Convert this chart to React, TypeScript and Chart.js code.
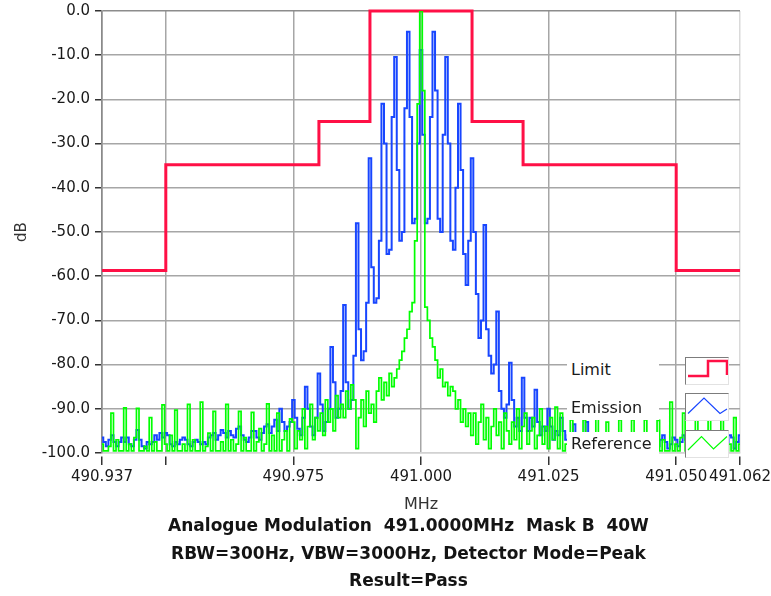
import React, { useEffect, useRef } from "react";
import { Chart, registerables } from "chart.js";

Chart.register(...registerables);

// ---------- data ----------
const FREQ_START = 490.9375; // MHz, first sample
const FREQ_STEP = 0.0005; // MHz between samples
const X_MIN = 490.9375;
const X_MAX = 491.0625;
const X_TICKS = [490.9375, 490.95, 490.975, 491.0, 491.025, 491.05, 491.0625];
const X_TICK_LABELS = ["490.937", "", "490.975", "491.000", "491.025", "491.050", "491.062"];
const Y_TICKS = [0, -10, -20, -30, -40, -50, -60, -70, -80, -90, -100];

const SERIES_NAMES = ["Limit", "Emission", "Reference"];

// Limit mask: band edges (MHz) and level (dB) held from each edge to the next
const LIMIT_FREQ = [490.9375, 490.95, 490.98, 490.99, 491.01, 491.02, 491.05, 491.0625];
const LIMIT_DB = [-58.7, -34.8, -25, 0, -25, -34.8, -58.7, -58.7];

// Emission trace (dB), one value per sample
const EMISSION = [
  -96.5, -97.5, -98.5, -97, -96, -97.5, -98.5, -97.5, -96.5, -97.5,
  -96.5, -98, -98.5, -97, -94.8, -97, -98.5, -99, -97.5, -98,
  -97.5, -96, -97, -95.5, -96.5, -95.5, -96, -98, -98.5, -97.5,
  -98, -97, -96.5, -97, -98, -98.5, -97.5, -97, -97.5, -98,
  -97.5, -98, -96.5, -96, -95.5, -97, -96, -94.8, -95.5, -96.5,
  -95, -96, -96.5, -94.5, -94, -96, -97, -97.5, -96.5, -95,
  -95, -96.5, -97, -95.5, -94, -93.5, -95.5, -94, -92.5, -95,
  -90, -93, -95, -94, -93, -88, -92, -94.5, -96, -92,
  -85, -90, -94, -96, -92, -82, -89, -95, -93, -90,
  -76, -84, -92, -90, -86, -66.5, -84, -90, -88, -78,
  -48, -72, -79, -77, -66, -33.3, -58, -66, -65, -52,
  -21, -30, -55, -54, -24, -10.4, -36, -52, -50, -22,
  -4.7, -24, -48, -47, -30, -8.8, -28, -48, -47, -24,
  -4.7, -18, -47, -50, -28, -10.4, -30, -52, -54, -40,
  -21, -36, -55, -62, -52, -33.3, -50, -64, -74, -70,
  -48.4, -72, -78, -82, -80, -68, -86, -90, -92, -89,
  -79.6, -88, -94, -92, -95, -83, -92, -95, -92, -94,
  -85.7, -93, -96, -94, -95, -90, -94, -97, -95, -96,
  -92, -95, -97, -96, -98, -93.5, -96, -97.5, -98, -96,
  -93, -96.5, -98, -97, -95.5, -96.5, -98, -97.5, -96, -97,
  -98, -97, -95.5, -96.5, -98, -97, -96.5, -98, -97.5, -96,
  -97, -98.5, -97, -96, -97.5, -98, -96.5, -97, -98.5, -97,
  -96, -97.5, -99, -98, -96.5, -97, -98.5, -97.5, -96, -97,
  -98, -97, -96.5, -97.5, -98, -96, -97, -98.5, -97, -96.5,
  -97.5, -98, -96.5, -97, -98, -97.5, -96, -96.5, -99, -97.5,
  -96,
];

// Reference trace (dB), one value per sample
const REFERENCE = [
  -98, -99.5, -99.5, -98.5, -91, -99.5, -97, -99.5, -99.5, -89.8,
  -99.5, -98, -99.5, -96.5, -89.9, -99.5, -99.5, -98.5, -99.5, -92,
  -99.5, -97.5, -99.5, -99.5, -89.1, -98, -99.5, -96, -99.5, -90.3,
  -99.5, -99.5, -98, -99.5, -89, -99.5, -97, -99.5, -99.5, -88.5,
  -99.5, -98.5, -95.5, -99.5, -90.6, -99.5, -99.5, -97.5, -99.5, -89,
  -99.5, -97, -99.5, -98, -90.6, -99.5, -96.5, -99.5, -99.5, -90.8,
  -99.5, -97.5, -94.5, -99.5, -98, -88.9, -99.5, -96, -99.5, -91,
  -99.5, -97, -95, -99.5, -92.3, -93, -99, -95, -97, -90,
  -99, -94, -89, -97, -92, -95, -91, -96, -88, -93,
  -90, -95, -87, -92, -89, -92, -86, -90, -84.6, -88,
  -99, -92, -88, -94, -86, -91, -89, -93, -86, -83,
  -88, -84, -87, -82, -85, -83, -81, -79, -77, -74,
  -72, -68, -66, -52, -21, 0, -18, -67, -70, -74,
  -76, -79, -83, -81, -85, -84, -87, -85, -86, -90,
  -88, -93, -90, -94, -91, -96, -91, -98, -93, -89,
  -97, -92, -99, -94, -90, -96, -93, -99, -91, -95,
  -98, -93, -97, -90, -99, -94, -91, -98, -95, -92,
  -99, -96, -90, -98, -94, -99, -92, -97, -89.6, -99,
  -91, -99.5, -98, -99.5, -92.5, -99.5, -97, -99.5, -99.5, -92.5,
  -99.5, -98, -99.5, -96.5, -92, -99.5, -99.5, -98, -93, -99.5,
  -97.5, -99.5, -99.5, -92.5, -99.5, -98, -99.5, -96, -92.5, -99.5,
  -99.5, -97.5, -99.5, -92.5, -99.5, -98.5, -99.5, -99.5, -92.6, -99.5,
  -97, -99.5, -99.5, -88.5, -99.5, -98, -99.5, -96.5, -91, -99.5,
  -99.5, -98, -99.5, -90, -99.5, -97.5, -99.5, -99.5, -91, -99.5,
  -98.5, -99.5, -96.5, -90.5, -99.5, -99.5, -98, -99.5, -92, -99.5,
  -98,
];

const TITLE_LINES = [
  "Analogue Modulation  491.0000MHz  Mask B  40W",
  "RBW=300Hz, VBW=3000Hz, Detector Mode=Peak",
  "Result=Pass",
];

const COLORS = { limit: "#ff1046", emission: "#1846ff", reference: "#00ff00" };
const FONT = '"DejaVu Sans", Verdana, sans-serif';

export default function App() {
  const canvasRef = useRef<HTMLCanvasElement | null>(null);

  useEffect(() => {
    const canvas = canvasRef.current;
    if (!canvas) return;
    Chart.defaults.font.family = FONT;
    const freqs = EMISSION.map((_, i) => FREQ_START + i * FREQ_STEP);
    const chart = new Chart(canvas, {
      type: "line",
      data: {
        datasets: [
          {
            label: SERIES_NAMES[2],
            data: REFERENCE.map((v, i) => ({ x: freqs[i], y: v })),
            borderColor: COLORS.reference,
            borderWidth: 1.7,
            pointRadius: 0,
            stepped: "middle",
            order: 0,
          },
          {
            label: SERIES_NAMES[1],
            data: EMISSION.map((v, i) => ({ x: freqs[i], y: v })),
            borderColor: COLORS.emission,
            borderWidth: 2,
            pointRadius: 0,
            stepped: "middle",
            order: 1,
          },
          {
            label: SERIES_NAMES[0],
            data: LIMIT_FREQ.map((f, i) => ({ x: f, y: LIMIT_DB[i] })),
            borderColor: COLORS.limit,
            borderWidth: 3,
            pointRadius: 0,
            stepped: "before",
            clip: false,
            order: 2,
          },
        ],
      },
      options: {
        responsive: false,
        animation: false,
        events: [],
        layout: { padding: { left: 0, top: 11, right: 31, bottom: 82 } },
        plugins: { legend: { display: false }, tooltip: { enabled: false } },
        scales: {
          x: {
            type: "linear",
            min: X_MIN,
            max: X_MAX,
            afterBuildTicks: (s: any) => {
              s.ticks = X_TICKS.map((v) => ({ value: v }));
            },
            afterFit: (s: any) => {
              s.height = 61;
              s.paddingLeft = 0;
              s.paddingRight = 0;
            },
            ticks: {
              autoSkip: false,
              maxRotation: 0,
              minRotation: 0,
              padding: 3,
              font: { size: 15 },
              color: "#1a1a1a",
              callback: (_v: any, i: number) => X_TICK_LABELS[i],
            },
            grid: {
              color: (ctx: any) => {
                const v = ctx.tick ? ctx.tick.value : 0;
                if (Math.abs(v - X_MAX) < 1e-9) return "#dadada";
                if (Math.abs(v - X_MIN) < 1e-9) return "#8a8a8a";
                return "#a6a6a6";
              },
              lineWidth: 1.5,
              tickColor: "#333",
              tickLength: 12,
              tickWidth: 1.5,
              tickBorderDash: [0, 3, 20],
            },
            border: { color: "#d2d2d2", width: 1.5 },
            title: {
              display: true,
              text: "MHz",
              font: { size: 16 },
              color: "#333",
              padding: { top: 0, bottom: 0 },
            },
          },
          y: {
            type: "linear",
            min: -100,
            max: 0,
            afterBuildTicks: (s: any) => {
              s.ticks = Y_TICKS.map((v) => ({ value: v }));
            },
            afterFit: (s: any) => {
              s.width = 102;
              s.paddingTop = 0;
              s.paddingBottom = 0;
            },
            ticks: {
              padding: 2,
              font: { size: 15 },
              color: "#1a1a1a",
              callback: (v: any) => Number(v).toFixed(1),
            },
            grid: {
              color: (ctx: any) => {
                const v = ctx.tick ? ctx.tick.value : 0;
                if (v === 0) return "#8c8c8c";
                if (v === -100) return "#d2d2d2";
                return "#a6a6a6";
              },
              lineWidth: 1.5,
              tickColor: "#333",
              tickLength: 10,
              tickWidth: 1.5,
              tickBorderDash: [0, 3, 20],
            },
            border: { color: "#8a8a8a", width: 1.5 },
            title: {
              display: true,
              text: "dB",
              font: { size: 15 },
              color: "#333",
              padding: { top: 13, bottom: 0 },
            },
          },
        },
      },
    } as any);
    return () => chart.destroy();
  }, []);

  const labelBox = (top: number): React.CSSProperties => ({
    position: "absolute",
    left: 567,
    top,
    width: 92,
    height: 24,
    background: "#fff",
    font: `16px ${FONT}`,
    lineHeight: "24px",
    color: "#1a1a1a",
    paddingLeft: 4,
    boxSizing: "border-box",
    whiteSpace: "nowrap",
  });
  const iconBox = (top: number): React.CSSProperties => ({
    position: "absolute",
    left: 685,
    top,
    width: 44,
    height: 28,
    background: "#fff",
    boxSizing: "border-box",
    borderTop: "1px solid #7c7c7c",
    borderLeft: "1px solid #7c7c7c",
    borderRight: "1px solid #e2e2e2",
    borderBottom: "1px solid #e2e2e2",
  });

  return (
    <div style={{ position: "fixed", left: 0, top: 0, width: 771, height: 596, background: "#fff" }}>
      <canvas ref={canvasRef} width={771} height={596} style={{ display: "block", width: 771, height: 596 }} />
      <div style={labelBox(358)}>{SERIES_NAMES[0]}</div>
      <div style={labelBox(396)}>{SERIES_NAMES[1]}</div>
      <div style={labelBox(432)}>{SERIES_NAMES[2]}</div>
      <div style={iconBox(357)}>
        <svg width={42} height={26} style={{ display: "block" }}>
          <polyline points="2,18 22,18 22,3 41,3 41,17" fill="none" stroke={COLORS.limit} strokeWidth={2.5} />
        </svg>
      </div>
      <div style={iconBox(393)}>
        <svg width={42} height={26} style={{ display: "block" }}>
          <polyline points="2,19.5 18,4 34,19.5 41,15" fill="none" stroke={COLORS.emission} strokeWidth={1.2} />
        </svg>
      </div>
      <div style={iconBox(430)}>
        <svg width={42} height={26} style={{ display: "block" }}>
          <polyline points="2,19 15.5,5.5 27.5,18 41,5.5" fill="none" stroke={COLORS.reference} strokeWidth={1.2} />
        </svg>
      </div>
      <div
        style={{
          position: "absolute",
          left: 108,
          top: 512,
          width: 601,
          textAlign: "center",
          font: `bold 17px ${FONT}`,
          lineHeight: "27.5px",
          color: "#141414",
          whiteSpace: "pre",
        }}
      >
        {TITLE_LINES.map((t, i) => (
          <div key={i}>{t}</div>
        ))}
      </div>
    </div>
  );
}
